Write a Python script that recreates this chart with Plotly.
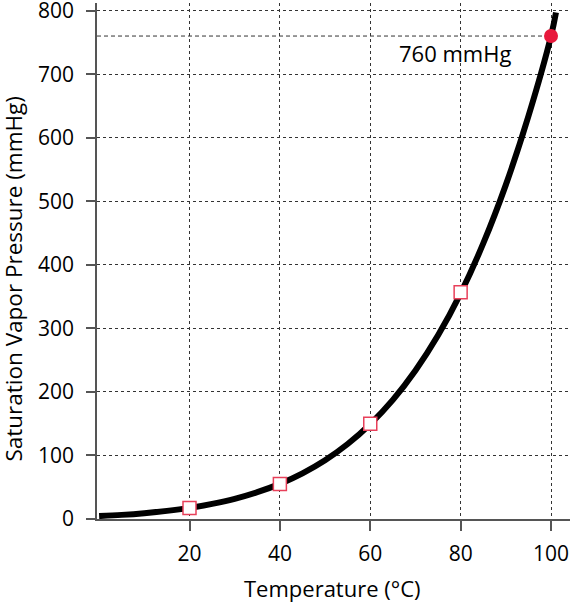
import plotly.graph_objects as go

# saturation vapor pressure of water
temp_c = [0, 5, 10, 15, 20, 25, 30, 35, 40, 45, 50, 55, 60, 65, 70, 75, 80, 85, 90, 95, 100, 101.1]
pressure_mmhg = [4.6, 6.5, 9.2, 12.8, 17.5, 23.8, 31.8, 42.2, 55.3, 71.9, 92.5, 118, 149.4, 187.5,
                 233.7, 289.1, 355.1, 433.6, 525.8, 633.9, 760, 797]

marker_temps = [20, 40, 60, 80]
marker_pressures = [17.5, 55, 150, 357]

boil_temp = 100
boil_pressure = 760
boil_label = "760 mmHg"

x_ticks = [20, 40, 60, 80, 100]
y_ticks = [0, 100, 200, 300, 400, 500, 600, 700, 800]

font = "Open Sans"

fig = go.Figure()

fig.add_trace(go.Scatter(
    x=temp_c, y=pressure_mmhg, mode="lines",
    line=dict(color="black", width=6, shape="spline"),
    hoverinfo="skip",
))

fig.add_trace(go.Scatter(
    x=marker_temps, y=marker_pressures, mode="markers",
    marker=dict(symbol="square", size=13, color="white",
                line=dict(color="#e8405a", width=1.5)),
))

fig.add_trace(go.Scatter(
    x=[boil_temp], y=[boil_pressure], mode="markers",
    marker=dict(symbol="circle", size=14, color="#e8193c"),
    cliponaxis=False,
))

# dashed reference line at 760 mmHg
fig.add_shape(type="line", xref="x", yref="y",
              x0=-0.47, x1=boil_temp, y0=boil_pressure, y1=boil_pressure,
              line=dict(color="#333333", width=1, dash="4px,3px"), layer="below")

fig.add_annotation(x=78.8, y=733, text=boil_label, showarrow=False,
                   font=dict(family=font, size=22, color="black"))

# axis titles
fig.add_annotation(xref="paper", yref="paper", x=0.498, y=-0.134,
                   xanchor="center", yanchor="middle", showarrow=False,
                   text="Temperature (°C)", font=dict(family=font, size=22, color="black"))
fig.add_annotation(xref="paper", yref="paper", x=0, xshift=-83, y=0.466,
                   xanchor="center", yanchor="middle", showarrow=False, textangle=-90,
                   text="Saturation Vapor Pressure (mmHg)", font=dict(family=font, size=22.5, color="black"))

fig.update_layout(
    width=572, height=603,
    margin=dict(l=97, r=2, t=3, b=84),
    plot_bgcolor="white", paper_bgcolor="white",
    showlegend=False,
    font=dict(family=font, size=21, color="black"),
)

fig.update_xaxes(
    range=[-0.47, 104.2], tickvals=x_ticks,
    showgrid=True, gridcolor="#333333", gridwidth=1, griddash="dot",
    showline=True, linecolor="#555555", linewidth=1.5,
    ticks="outside", ticklen=10, tickcolor="#555555", tickwidth=1.5,
    ticklabelstandoff=5, ticklabeloverflow="allow",
    zeroline=False, automargin=False,
)

fig.update_yaxes(
    range=[0, 812], tickvals=y_ticks,
    showgrid=True, gridcolor="#333333", gridwidth=1, griddash="dot",
    showline=True, linecolor="#555555", linewidth=1.5,
    ticks="outside", ticklen=9, tickcolor="#555555", tickwidth=1.5,
    ticklabelstandoff=8, ticklabeloverflow="allow",
    zeroline=False, automargin=False,
)

# page body has a default 8px margin; drop it so the figure sits at the corner
fig.write_html("out.html", config={"displayModeBar": False},
               post_script="document.body.style.margin='0';")
